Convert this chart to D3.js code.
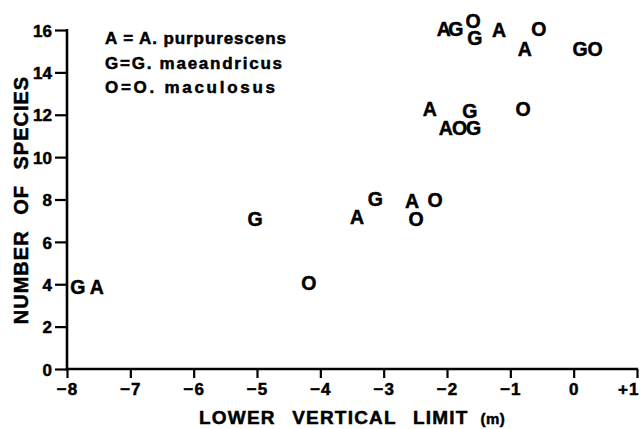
<!DOCTYPE html>
<html>
<head>
<meta charset="utf-8">
<script src="https://cdn.jsdelivr.net/npm/d3@7"></script>
<style>
  html, body { margin: 0; padding: 0; background: #fff; }
  svg { display: block; }
  text { font-family: "Liberation Sans", Arial, Helvetica, sans-serif; font-weight: bold; fill: #000; }
  .heavy { stroke: #000; stroke-width: 0.5px; }
</style>
</head>
<body>
<svg id="chart" width="640" height="429"></svg>
<script>
// Lower vertical limit (m) and number of species at each site, one letter per fish species
const aLimit   = [-7.53, -3.42, -2.55, -2.27, -2.02, -2.05, -1.18, -0.77];
const aSpecies = [ 3.85,  7.16,  7.92, 12.25, 11.37, 16.03, 16.00, 15.10];

const gLimit   = [-7.83, -5.03, -3.13, -1.64, -1.58, -1.86, -1.56,  0.10];
const gSpecies = [ 3.85,  7.10,  8.04, 12.17, 11.37, 16.03, 15.63, 15.10];

const oLimit   = [-4.18, -2.49, -2.19, -0.80, -1.80, -1.59, -0.55,  0.34];
const oSpecies = [ 4.04,  7.07,  7.97, 12.25, 11.37, 16.43, 16.05, 15.10];

const seriesLetters = ["A", "G", "O"];
const legendLines = ["A = A. purpurescens", "G=G. maeandricus", "O=O. maculosus"];

const xTicks = [-8, -7, -6, -5, -4, -3, -2, -1, 0, 1];
const yTicks = [0, 2, 4, 6, 8, 10, 12, 14, 16];

const xTitle = "LOWER VERTICAL LIMIT";
const xUnit = "(m)";
const yTitle = "NUMBER OF SPECIES";

// Build point records from the arrays
const series = [
  { letter: seriesLetters[0], xs: aLimit, ys: aSpecies },
  { letter: seriesLetters[1], xs: gLimit, ys: gSpecies },
  { letter: seriesLetters[2], xs: oLimit, ys: oSpecies }
];
const points = series.flatMap(s => s.xs.map((v, i) => ({ letter: s.letter, x: v, y: s.ys[i] })));

const svg = d3.select("#chart");
svg.append("rect").attr("width", 640).attr("height", 429).attr("fill", "#fff");

const x = d3.scaleLinear().domain([-8, 1]).range([67, 637]);
const y = d3.scaleLinear().domain([0, 16]).range([369, 30]);

const fmtX = d => d > 0 ? "+" + d : d < 0 ? "\u2212" + (-d) : "0";

// X axis
const gx = svg.append("g").attr("transform", `translate(0,${y(0)})`)
  .call(d3.axisBottom(x).tickValues(xTicks).tickFormat(fmtX).tickSize(9).tickPadding(5).tickSizeOuter(0));
gx.select(".domain").attr("stroke", "#000").attr("stroke-width", 2.6)
  .attr("d", `M${x(-8)},0H${x(1) + 1}`);
gx.selectAll(".tick line").attr("stroke", "#000").attr("stroke-width", 2.2);
gx.selectAll(".tick text").style("font-size", "17px").attr("fill", "#000")
  .attr("font-family", null).attr("letter-spacing", "1px").classed("heavy", true);
// keep the last label inside the right edge
gx.selectAll(".tick text").filter(d => d === xTicks[xTicks.length - 1])
  .attr("text-anchor", "end").attr("x", 639 - x(1));

// Y axis
const gy = svg.append("g").attr("transform", `translate(${x(-8)},0)`)
  .call(d3.axisLeft(y).tickValues(yTicks).tickFormat(d3.format("d")).tickSize(12).tickPadding(3).tickSizeOuter(0));
gy.select(".domain").attr("stroke", "#000").attr("stroke-width", 2.6)
  .attr("d", `M0,${y(0) + 1}V${y(16) - 1}`);
gy.selectAll(".tick line").attr("stroke", "#000").attr("stroke-width", 2.2);
gy.selectAll(".tick text").style("font-size", "17px").attr("fill", "#000")
  .attr("font-family", null).attr("dy", "0.36em").classed("heavy", true);

// Axis titles
const xt = svg.append("text").attr("x", 199).attr("y", 424)
  .attr("font-size", 19).attr("letter-spacing", "1.2px").attr("word-spacing", "10px")
  .classed("heavy", true);
xt.append("tspan").text(xTitle);
xt.append("tspan").attr("dx", 12).attr("font-size", 15).attr("letter-spacing", "0.5px").text(xUnit);

svg.append("text")
  .attr("transform", "translate(28,200) rotate(-90)")
  .attr("text-anchor", "middle")
  .attr("font-size", 20).attr("letter-spacing", "1px").attr("word-spacing", "9px")
  .classed("heavy", true)
  .text(yTitle);

// Legend
svg.append("g").selectAll("text").data(legendLines).join("text")
  .attr("x", 105).attr("y", (d, i) => 44 + i * 24.5)
  .attr("font-size", 17)
  .attr("textLength", (d, i) => [181, 177, 170][i])
  .attr("lengthAdjust", "spacing")
  .classed("heavy", true)
  .text(d => d);

// Data letters
svg.append("g").selectAll("text").data(points).join("text")
  .attr("x", d => x(d.x))
  .attr("y", d => y(d.y))
  .attr("dy", "0.36em")
  .attr("text-anchor", "middle")
  .attr("font-size", 19.5)
  .classed("heavy", true)
  .text(d => d.letter);
</script>
</body>
</html>
